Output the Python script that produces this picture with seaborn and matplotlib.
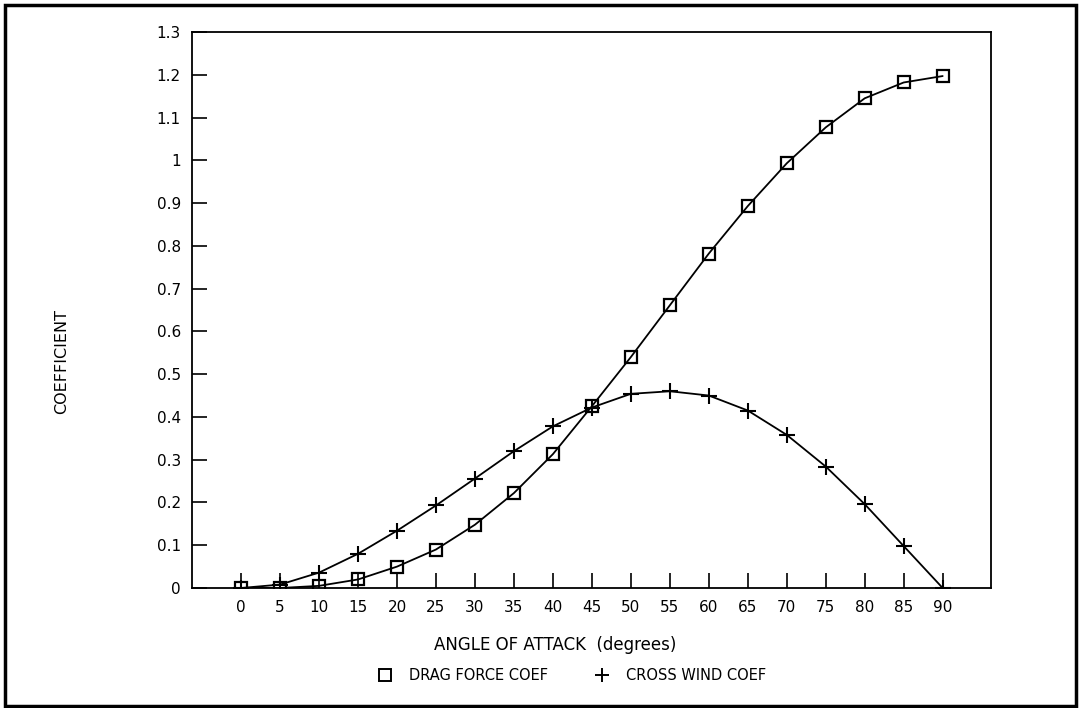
import numpy as np
import pandas as pd
import matplotlib
matplotlib.use("Agg")
import matplotlib.pyplot as plt
from matplotlib.lines import Line2D
from matplotlib.patches import Rectangle
import seaborn as sns

angles = [0, 5, 10, 15, 20, 25, 30, 35, 40, 45, 50, 55, 60, 65, 70, 75, 80, 85, 90]
drag_coef = [0.0, 0.0, 0.005, 0.02, 0.05, 0.09, 0.148, 0.222, 0.313, 0.425,
             0.540, 0.661, 0.782, 0.893, 0.993, 1.077, 1.145, 1.182, 1.197]
cross_coef = [0.0, 0.008, 0.036, 0.080, 0.134, 0.193, 0.256, 0.320, 0.378, 0.422,
              0.454, 0.460, 0.450, 0.415, 0.358, 0.284, 0.196, 0.098, 0.0]
y_ticks = [0, 0.1, 0.2, 0.3, 0.4, 0.5, 0.6, 0.7, 0.8, 0.9, 1.0, 1.1, 1.2, 1.3]
y_tick_labels = ["0", "0.1", "0.2", "0.3", "0.4", "0.5", "0.6", "0.7", "0.8", "0.9",
                 "1", "1.1", "1.2", "1.3"]

sns.set_style("ticks")
plt.rcParams['font.family'] = ['DejaVu Sans']
plt.rcParams['text.color'] = 'black'

df = pd.DataFrame({"angle": angles, "drag": drag_coef, "cross": cross_coef})

fig = plt.figure(figsize=(10.86, 7.08), dpi=100)
ax = fig.add_axes([192/1086, 1 - 588/708, (991-192)/1086, (588-32)/708])

sns.lineplot(data=df, x="angle", y="drag", ax=ax, color="black", lw=1.3,
             marker="s", markersize=9, markerfacecolor="none",
             markeredgecolor="black", markeredgewidth=1.6)
sns.lineplot(data=df, x="angle", y="cross", ax=ax, color="black", lw=1.3,
             marker="+", markersize=12, markeredgecolor="black", markeredgewidth=1.5)

ax.set_xlim(-6.3, 96.2)
ax.set_ylim(0, 1.3)
ax.set_xticks(angles)
ax.set_xticklabels([str(a) for a in angles])
ax.set_yticks(y_ticks)
ax.set_yticklabels(y_tick_labels)
ax.tick_params(direction="in", length=11, width=1.2, labelsize=11, pad=8,
               colors="black", labelcolor="black")
ax.tick_params(axis="x", pad=9)
for s in ax.spines.values():
    s.set_visible(True)
    s.set_linewidth(1.3)
    s.set_color("black")
ax.set_xlabel("")
ax.set_ylabel("")

fig.text(555/1086, 1 - 645/708, "ANGLE OF ATTACK  (degrees)", ha="center", va="center",
         fontsize=12, color="black")
fig.text(62/1086, 1 - 361/708, "COEFFICIENT", rotation=90, ha="center", va="center",
         fontsize=11.5, color="black")

handles = [
    Line2D([], [], linestyle="none", marker="s", markersize=8, markerfacecolor="none",
           markeredgecolor="black", markeredgewidth=1.4, label="DRAG FORCE COEF"),
    Line2D([], [], linestyle="none", marker="+", markersize=10, color="black",
           markeredgewidth=1.4, label="CROSS WIND COEF"),
]
leg = fig.legend(handles=handles, loc="center", bbox_to_anchor=(570/1086, 1 - 676/708), ncol=2,
                 frameon=False, fontsize=10.5, columnspacing=2.95, handletextpad=0.9,
                 handlelength=1.5)
for t in leg.get_texts():
    t.set_color("black")

fig.add_artist(Rectangle((5/1086, 2/708), (1076-5)/1086, (703-2)/708, transform=fig.transFigure,
                         fill=False, edgecolor="black", linewidth=2.5))

fig.savefig("out.png", dpi=100, facecolor="white")
